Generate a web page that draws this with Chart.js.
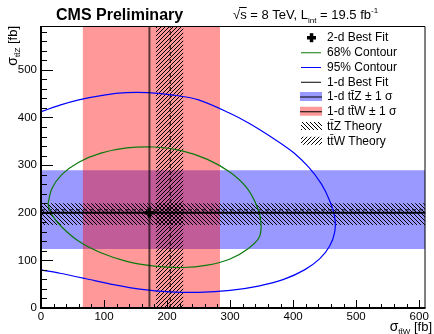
<!DOCTYPE html>
<html>
<head>
<meta charset="utf-8">
<script src="https://cdn.jsdelivr.net/npm/chart.js@4.4.0/dist/chart.umd.min.js"></script>
<style>
  html, body { margin: 0; padding: 0; background: #fff; }
  canvas { display: block; }
</style>
</head>
<body>
<canvas id="fitChart" width="434" height="334"></canvas>
<script>
// axis ranges (fb) and tick labels
const xRange = [0, 610];
const yRange = [0, 592];
const xTicks = [0, 100, 200, 300, 400, 500, 600];
const yTicks = [0, 100, 200, 300, 400, 500];
const majorStep = 100;
const minorStep = 20;

// 1-d fits: [best, -1 sigma, +1 sigma] in fb
const ttwFit = [172, 66, 284];
const ttzFit = [200, 124, 289];
// theory: [central, low, high]
const ttwTheory = [205, 182, 226];
const ttzTheory = [206, 174, 220];

// 2-d best fit
const bestFit = [172, 200];

// likelihood contours (sigma_ttW, sigma_ttZ)
const contour68X = [11, 17, 33, 60, 95, 136, 180, 224, 264, 300, 326, 343, 349, 346, 328, 300, 264, 224, 180, 136, 95, 60, 33, 17, 11];
const contour68Y = [218, 250, 280, 306, 325, 336, 338, 330, 312, 285, 253, 212, 178, 148, 124, 103, 90, 85, 88, 98, 116, 140, 170, 196, 218];
const contour95X = [-10, 0, 30, 60, 100, 135, 170, 210, 250, 298, 330, 370, 401, 425, 445, 458, 466, 466, 458, 442, 418, 385, 345, 300, 250, 205, 160, 115, 70, 30, 0, -10];
const contour95Y = [408, 412, 426, 437, 447, 452, 452, 447, 437, 410, 388, 355, 326, 295, 260, 225, 190, 160, 130, 103, 80, 60, 46, 37, 33, 34, 39, 49, 62, 73, 80, 83];

const legendLabels = ['2-d Best Fit', '68% Contour', '95% Contour', '1-d Best Fit',
    '1-d tt\u0304Z \u00b1 1 \u03c3', '1-d tt\u0304W \u00b1 1 \u03c3', 'tt\u0304Z Theory', 'tt\u0304W Theory'];

const FONT = '"Liberation Sans", Arial, sans-serif';
const canvas = document.getElementById('fitChart');
const mainCtx = canvas.getContext('2d');

// ROOT style hatching, dir 1 = "\\\\", -1 = "////"
function hatch(dir) {
    const c = document.createElement('canvas');
    c.width = 4; c.height = 4;
    const g = c.getContext('2d');
    g.fillStyle = '#000';
    for (let i = 0; i < 4; i++) g.fillRect(dir > 0 ? i : 3 - i, i, 1, 1);
    return mainCtx.createPattern(c, 'repeat');
}
const hatchZ = hatch(1);
const hatchW = hatch(-1);

const pts = (xs, ys) => xs.map((x, i) => ({ x: x, y: ys[i] }));

function drawRich(ctx, parts, x, y) {
    parts.forEach(([t, size, dy]) => {
        ctx.font = size + 'px ' + FONT;
        ctx.fillText(t, x, y + dy);
        x += ctx.measureText(t).width;
    });
    return x;
}
function richWidth(ctx, parts) {
    let w = 0;
    parts.forEach(([t, size]) => { ctx.font = size + 'px ' + FONT; w += ctx.measureText(t).width; });
    return w;
}

// frame, inward ticks, titles
const rootFrame = {
    id: 'rootFrame',
    afterDatasetsDraw(chart) {
        const { ctx, chartArea: a, scales: { x, y } } = chart;
        ctx.save();
        ctx.strokeStyle = '#000';
        ctx.lineWidth = 1;
        ctx.beginPath();
        for (let v = xRange[0]; v <= xRange[1]; v += minorStep) {
            const px = Math.round(x.getPixelForValue(v)) + 0.5;
            const len = v % majorStep === 0 ? 8 : 4;
            ctx.moveTo(px, a.bottom); ctx.lineTo(px, a.bottom - len);
        }
        for (let v = yRange[0]; v <= yRange[1]; v += minorStep) {
            const py = Math.round(y.getPixelForValue(v)) + 0.5;
            const len = v % majorStep === 0 ? 12 : 6;
            ctx.moveTo(a.left, py); ctx.lineTo(a.left + len, py);
        }
        ctx.stroke();
        ctx.beginPath();
        ctx.moveTo(a.left, a.top + 0.5); ctx.lineTo(a.right - 0.5, a.top + 0.5); ctx.lineTo(a.right - 0.5, a.bottom);
        ctx.stroke();
        ctx.lineWidth = 2;
        ctx.beginPath();
        ctx.moveTo(a.left, a.top); ctx.lineTo(a.left, a.bottom); ctx.lineTo(a.right, a.bottom);
        ctx.stroke();
        ctx.restore();
    },
    afterDraw(chart) {
        const ctx = chart.ctx;
        ctx.save();
        ctx.fillStyle = '#000';
        ctx.textBaseline = 'alphabetic';
        ctx.font = 'bold 16px ' + FONT;
        ctx.fillText('CMS Preliminary', 56, 20);

        // sqrt(s) = 8 TeV, L_int = 19.5 fb^-1
        const sx = drawRich(ctx, [['\u221a', 13, 0]], 233, 19);
        const ex = drawRich(ctx, [['s', 13, 0]], sx, 19);
        ctx.fillRect(sx - 1, 7, ex - sx + 1, 1);
        drawRich(ctx, [[' = 8 TeV, L', 13, 0], ['int', 8, 4], [' = 19.5 fb', 13, 0], ['-1', 8, -6]], ex, 19);

        // axis titles
        const xt = [['\u03c3', 14, 0], ['tt\u0304W', 8, 3], [' [fb]', 13, 0]];
        drawRich(ctx, xt, 432 - richWidth(ctx, xt), 331);
        const yt = [['\u03c3', 14, 0], ['tt\u0304Z', 8, 3], [' [fb]', 13, 0]];
        ctx.translate(17, 26);
        ctx.rotate(-Math.PI / 2);
        drawRich(ctx, yt, -richWidth(ctx, yt), 0);
        ctx.restore();

        // legend
        ctx.save();
        ctx.textBaseline = 'middle';
        ctx.font = '12px ' + FONT;
        legendLabels.forEach((label, i) => {
            const ly = 37.5 + i * 14.75;
            ctx.lineWidth = 1;
            ctx.strokeStyle = '#000';
            if (i === 0) {
                ctx.fillStyle = '#000';
                ctx.fillRect(307, ly - 1.5, 9, 3.5);
                ctx.fillRect(309.8, ly - 4.3, 3.5, 9);
            } else if (i <= 3) {
                ctx.strokeStyle = ['', '#0b7a0b', '#0000ff', '#000'][i];
                ctx.beginPath(); ctx.moveTo(301, ly + 0.5); ctx.lineTo(321, ly + 0.5); ctx.stroke();
            } else if (i <= 5) {
                ctx.fillStyle = i === 4 ? '#9999ff' : '#ff9999';
                ctx.fillRect(300, ly - 4.5, 22, 9);
                ctx.beginPath(); ctx.moveTo(300, ly + 0.5); ctx.lineTo(322, ly + 0.5); ctx.stroke();
            } else {
                ctx.fillStyle = i === 6 ? hatchZ : hatchW;
                ctx.fillRect(301, ly - 4, 21, 8);
            }
            ctx.fillStyle = '#000';
            ctx.fillText(label, 327, ly + 0.5);
        });
        ctx.restore();
    }
};

const flat = { pointRadius: 0, borderWidth: 0, tension: 0 };

new Chart(mainCtx, {
    type: 'line',
    data: {
        datasets: [
            // 1-d ttZ +-1 sigma (horizontal band)
            { ...flat, order: 10, data: [{ x: xRange[0], y: ttzFit[2] }, { x: xRange[1], y: ttzFit[2] }],
              fill: { value: ttzFit[1] }, backgroundColor: 'rgba(0,0,255,0.4)' },
            // 1-d ttW +-1 sigma (vertical band)
            { ...flat, order: 9, data: [{ x: ttwFit[1], y: yRange[1] }, { x: ttwFit[2], y: yRange[1] }],
              fill: 'start', backgroundColor: 'rgba(255,0,0,0.4)' },
            // theory bands
            { ...flat, order: 8, data: [{ x: xRange[0], y: ttzTheory[2] }, { x: xRange[1], y: ttzTheory[2] }],
              fill: { value: ttzTheory[1] }, backgroundColor: hatchZ },
            { ...flat, order: 7, data: [{ x: ttwTheory[1], y: yRange[1] }, { x: ttwTheory[2], y: yRange[1] }],
              fill: 'start', backgroundColor: hatchW },
            { pointRadius: 0, order: 6, borderWidth: 1, borderColor: '#000', borderDash: [4, 3],
              data: [{ x: ttwTheory[0], y: yRange[0] }, { x: ttwTheory[0], y: yRange[1] }] },
            { pointRadius: 0, order: 6, borderWidth: 1, borderColor: '#000', borderDash: [4, 3],
              data: [{ x: xRange[0], y: ttzTheory[0] }, { x: xRange[1], y: ttzTheory[0] }] },
            // contours
            { pointRadius: 0, order: 5, borderWidth: 1.2, borderColor: '#0b7a0b', tension: 0.3,
              data: pts(contour68X, contour68Y) },
            { pointRadius: 0, order: 5, borderWidth: 1.2, borderColor: '#0000ff', tension: 0.3,
              data: pts(contour95X, contour95Y) },
            // 1-d best fit lines
            { pointRadius: 0, order: 4, borderWidth: 2, borderColor: 'rgba(0,0,0,0.65)',
              data: [{ x: ttwFit[0], y: yRange[0] }, { x: ttwFit[0], y: yRange[1] }] },
            { pointRadius: 0, order: 4, borderWidth: 2, borderColor: '#000',
              data: [{ x: xRange[0], y: ttzFit[0] }, { x: xRange[1], y: ttzFit[0] }] },
            // 2-d best fit
            { order: 1, showLine: false, pointStyle: 'cross', pointRadius: 5, borderWidth: 3.5,
              borderColor: '#000', data: [{ x: bestFit[0], y: bestFit[1] }] }
        ]
    },
    options: {
        responsive: false,
        animation: false,
        events: [],
        layout: { padding: { top: 26, right: 6, left: 0, bottom: 0 } },
        plugins: { legend: { display: false }, tooltip: { enabled: false } },
        scales: {
            x: {
                type: 'linear', min: xRange[0], max: xRange[1],
                grid: { display: false, drawTicks: false }, border: { display: false },
                ticks: { color: '#000', padding: 2, maxRotation: 0, autoSkip: false,
                         font: { family: FONT, size: 11.5 } },
                afterBuildTicks: (s) => { s.ticks = xTicks.map(v => ({ value: v })); },
                afterFit: (s) => { s.height = 26; }
            },
            y: {
                type: 'linear', min: yRange[0], max: yRange[1],
                grid: { display: false, drawTicks: false }, border: { display: false },
                ticks: { color: '#000', padding: 4, autoSkip: false,
                         font: { family: FONT, size: 11.5 } },
                afterBuildTicks: (s) => { s.ticks = yTicks.map(v => ({ value: v })); },
                afterFit: (s) => { s.width = 41; }
            }
        }
    },
    plugins: [rootFrame]
});
</script>
</body>
</html>
